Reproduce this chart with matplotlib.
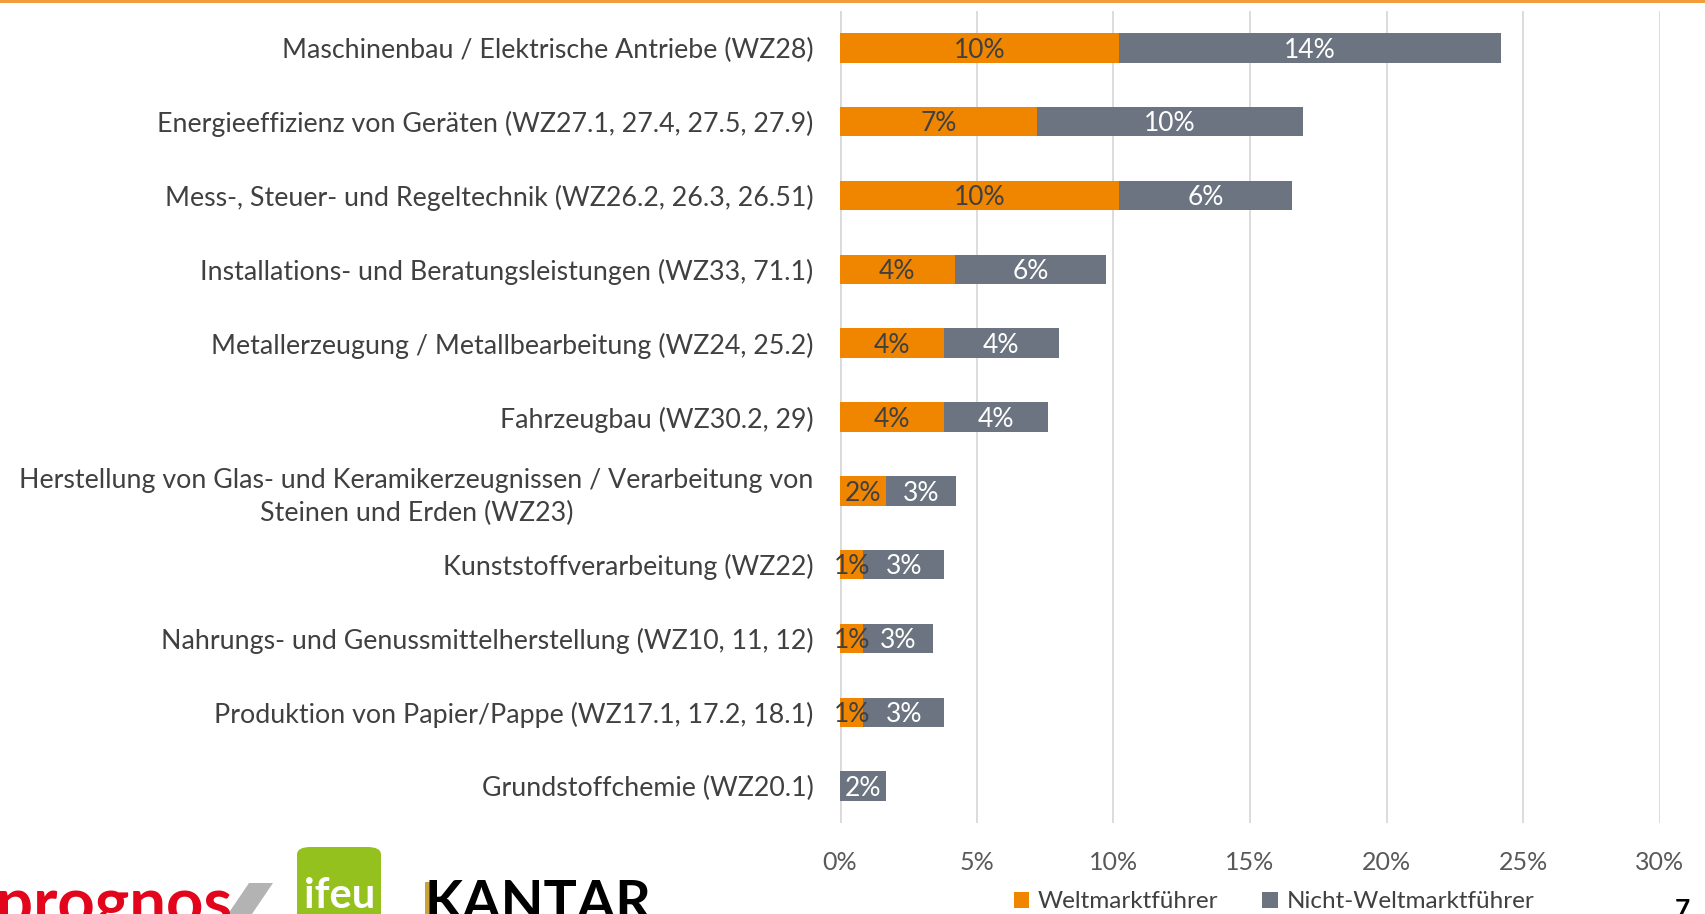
import numpy as np
import matplotlib.pyplot as plt
from matplotlib.patches import FancyBboxPatch, Polygon, Rectangle

plt.rcParams['font.family'] = ['Lato', 'DejaVu Sans']

# Data (share in %)
categories = [
    'Maschinenbau / Elektrische Antriebe (WZ28)',
    'Energieeffizienz von Geräten (WZ27.1, 27.4, 27.5, 27.9)',
    'Mess-, Steuer- und Regeltechnik (WZ26.2, 26.3, 26.51)',
    'Installations- und Beratungsleistungen (WZ33, 71.1)',
    'Metallerzeugung / Metallbearbeitung (WZ24, 25.2)',
    'Fahrzeugbau (WZ30.2, 29)',
    'Herstellung von Glas- und Keramikerzeugnissen / Verarbeitung von\nSteinen und Erden (WZ23)',
    'Kunststoffverarbeitung (WZ22)',
    'Nahrungs- und Genussmittelherstellung (WZ10, 11, 12)',
    'Produktion von Papier/Pappe (WZ17.1, 17.2, 18.1)',
    'Grundstoffchemie (WZ20.1)',
]
weltmarkt = [10.2, 7.2, 10.2, 4.2, 3.8, 3.8, 1.7, 0.85, 0.85, 0.85, 0.0]
nicht_weltmarkt = [14.0, 9.75, 6.35, 5.55, 4.2, 3.8, 2.55, 2.97, 2.55, 2.97, 1.7]
weltmarkt_labels = ['10%', '7%', '10%', '4%', '4%', '4%', '2%', '1%', '1%', '1%', '']
nicht_labels = ['14%', '10%', '6%', '6%', '4%', '4%', '3%', '3%', '3%', '3%', '2%']
xticks = [0, 5, 10, 15, 20, 25, 30]

ORANGE = '#F08600'
GREY = '#6B7480'
TXT = '#404040'

fig = plt.figure(figsize=(17.06, 9.14), dpi=100)
ax = fig.add_axes([840/1706, 1 - 823/914, 820/1706, 812/914])

y = np.arange(len(categories))
ax.barh(y, weltmarkt, height=0.4, color=ORANGE, label='Weltmarktführer', zorder=3)
ax.barh(y, nicht_weltmarkt, height=0.4, left=weltmarkt, color=GREY,
        label='Nicht-Weltmarktführer', zorder=3)

for i in range(len(categories)):
    if weltmarkt_labels[i]:
        ax.text(weltmarkt[i] / 2, i + 0.03, weltmarkt_labels[i], ha='center', va='center',
                fontsize=19, color=TXT, zorder=4)
    ax.text(weltmarkt[i] + nicht_weltmarkt[i] / 2, i + 0.03, nicht_labels[i], ha='center',
            va='center', fontsize=19, color='white', zorder=4)

ax.set_xlim(0, 30)
ax.set_ylim(len(categories) - 0.5, -0.5)
ax.set_xticks(xticks)
ax.set_xticklabels([f'{t}%' for t in xticks], fontsize=18, color='#595959')
ax.set_yticks(y)
ax.set_yticklabels(categories, fontsize=19.3, color=TXT, multialignment='center',
                   linespacing=1.4)
ax.tick_params(axis='y', length=0, pad=19)
ax.tick_params(axis='x', length=0, pad=20)
ax.grid(axis='x', color='#D9D9D9', linewidth=1.3, zorder=0)
ax.axvline(0, color='#D9D9D9', linewidth=2, zorder=1)
for s in ax.spines.values():
    s.set_visible(False)

leg = fig.legend(loc='center', bbox_to_anchor=(1274/1706, 1 - 902/914), ncol=2,
                 frameon=False, fontsize=17.5, handlelength=0.65, handleheight=0.65,
                 columnspacing=1.8, handletextpad=0.35)
for t in leg.get_texts():
    t.set_color('#404040')

# orange rule at the top of the slide
fig.add_artist(Rectangle((0, 1 - 3/914), 1, 3/914, transform=fig.transFigure,
                         color='#F29D3A', lw=0))

# page number
fig.text(1682/1706, 1 - 918/914, '7', fontsize=19, fontweight='bold', color='black',
         ha='center', va='baseline')

# partner logos (approximated)
fig.text(-4/1706, 1 - 924/914, 'prognos', fontsize=47, fontweight='bold', color='#E3051B',
         ha='left', va='baseline')
fig.add_artist(Polygon([(228/1706, 1 - 914/914), (252/1706, 1 - 914/914),
                        (273/1706, 1 - 883/914), (249/1706, 1 - 883/914)],
                       closed=True, transform=fig.transFigure, color='#B3B3B3', lw=0))
fig.add_artist(FancyBboxPatch((297/1706, 1 - 930/914), 84/1706, 83/914,
                              boxstyle='round,pad=0,rounding_size=0.008',
                              transform=fig.transFigure, color='#95C11F', lw=0))
fig.text(340/1706, 1 - 908/914, 'ifeu', fontsize=30, fontweight='bold', color='white',
         ha='center', va='baseline')
fig.add_artist(Rectangle((425/1706, 1 - 914/914), 6/1706, 32/914,
                         transform=fig.transFigure, color='#C9A23A', lw=0))
fig.text(425/1706, 1 - 920/914, 'KANTAR', fontsize=40, fontweight='bold', color='black',
         ha='left', va='baseline')

fig.savefig('out.png', dpi=100)
